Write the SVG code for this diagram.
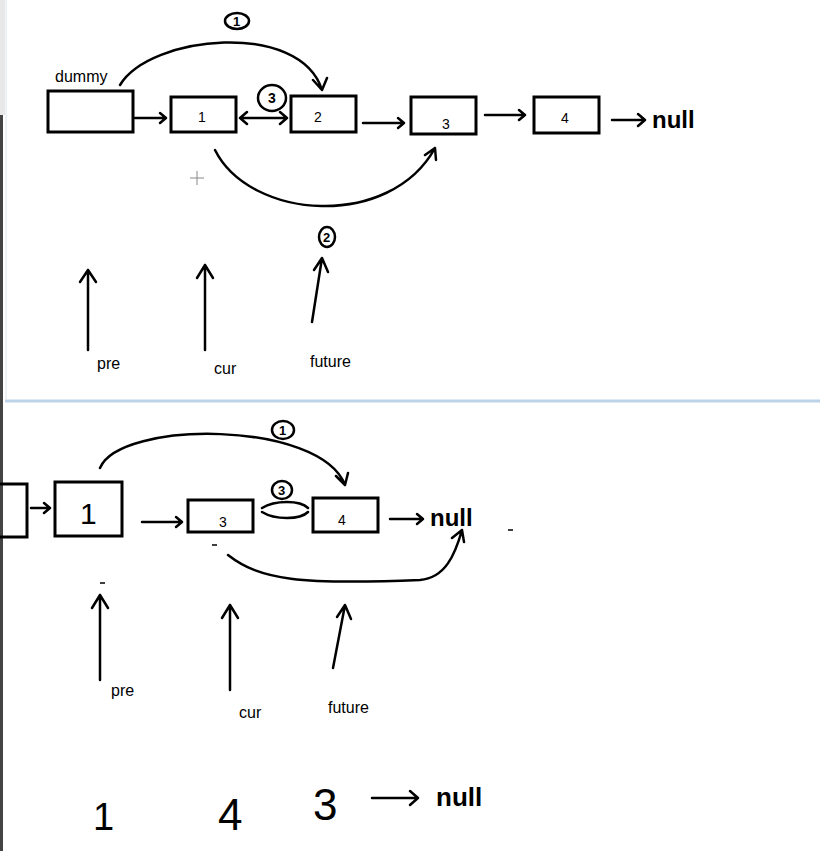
<svg xmlns="http://www.w3.org/2000/svg" width="820" height="851" viewBox="0 0 820 851">
<style>
.b{fill:none;stroke:#000;stroke-width:3}
.l{fill:none;stroke:#000;stroke-width:2.5;stroke-linecap:round;stroke-linejoin:round}
.t{font-family:"Liberation Sans",Arial,sans-serif;fill:#000}
.h{font-family:"Liberation Sans",Arial,sans-serif;font-weight:bold;fill:#000}
</style>
<rect width="820" height="851" fill="#fff"/>
<rect x="0" y="115" width="3" height="736" fill="#444"/>
<rect x="0" y="0" width="5" height="115" fill="#e8e8e8"/>
<line x1="5" y1="401" x2="820" y2="401" stroke="#bcd3ea" stroke-width="3"/>
<line x1="6" y1="0" x2="6" y2="400" stroke="#dde6ef" stroke-width="1"/>
<g id="top-nodes">
<g id="dummy"><rect class="b" x="48" y="91" width="85" height="41"/><text class="t" x="55" y="82" font-size="16">dummy</text></g>
<g id="n1"><rect class="b" x="171" y="97" width="65" height="35"/><text class="t" x="198" y="122" font-size="14">1</text></g>
<g id="n2"><rect class="b" x="291" y="96" width="65" height="36"/><text class="t" x="314" y="122" font-size="14">2</text></g>
<g id="n3"><rect class="b" x="411" y="97" width="65" height="37"/><text class="t" x="442" y="129" font-size="14">3</text></g>
<g id="n4"><rect class="b" x="534" y="97" width="65" height="36"/><text class="t" x="561" y="123" font-size="14">4</text></g>
<text class="h" x="652" y="128" font-size="24">null</text>
</g>
<g id="top-connectors">
<path class="l" d="M135 118 H166 M160 113 L166 118 L160 123"/>
<path class="l" d="M240 118 H287 M247 112 L240 118 L247 124 M280 112 L287 118 L280 124"/>
<path class="l" d="M363 123 H404 M398 118 L404 123 L398 128"/>
<path class="l" d="M485 115 H525 M519 110 L525 115 L519 120"/>
<path class="l" d="M612 120 H645 M638 114 L645 120 L638 126"/>
<path class="l" d="M120 85 C150 35 300 20 322 90 M313 80 L322 90 L327 78"/>
<path class="l" d="M215 150 C250 220 390 230 435 148 M425 155 L435 148 L436 160"/>
<path class="l" d="M88 350 V270 M80 282 L88 270 L96 282"/>
<path class="l" d="M205 350 V265 M197 278 L205 265 L213 278"/>
<path class="l" d="M312 322 L322 258 M314 270 L322 258 L328 272"/>
<ellipse class="l" cx="237" cy="21" rx="12" ry="8"/><text class="h" x="233" y="26" font-size="13">1</text>
<ellipse class="l" cx="327" cy="237" rx="8" ry="10"/><text class="h" x="323" y="242" font-size="13">2</text>
<ellipse class="l" cx="272" cy="98" rx="14" ry="13"/><text class="h" x="268" y="103" font-size="14">3</text>
<path d="M197 171 V185 M190 178 H204" stroke="#888" stroke-width="1"/>
<text class="t" x="97" y="369" font-size="16">pre</text>
<text class="t" x="214" y="374" font-size="16">cur</text>
<text class="t" x="310" y="367" font-size="16">future</text>
</g>
<g id="bottom-nodes">
<g id="bn0"><rect class="b" x="-10" y="484" width="37" height="53"/></g>
<g id="bn1"><rect class="b" x="55" y="482" width="67" height="54"/><text class="t" x="80" y="524" font-size="30">1</text></g>
<g id="bn3"><rect class="b" x="188" y="500" width="65" height="32"/><text class="t" x="219" y="527" font-size="14">3</text></g>
<g id="bn4"><rect class="b" x="313" y="498" width="65" height="34"/><text class="t" x="338" y="525" font-size="14">4</text></g>
<text class="h" x="430" y="526" font-size="24">null</text>
</g>
<g id="bottom-connectors">
<path class="l" d="M31 508 H50 M44 503 L50 508 L44 513"/>
<path class="l" d="M142 522 H182 M176 517 L182 522 L176 527"/>
<path class="l" d="M390 519 H423 M417 514 L423 519 L417 524"/>
<path class="l" d="M100 468 C120 420 320 420 345 485 M336 476 L345 485 L348 473"/>
<path class="l" d="M262 508 C275 500 300 500 308 508 M262 512 C275 520 300 520 308 512"/>
<path class="l" d="M228 555 C260 580 300 585 420 580 C445 578 455 555 462 530 M452 538 L462 530 L464 542"/>
<path class="l" d="M100 680 V595 M92 608 L100 595 L108 608"/>
<path class="l" d="M230 690 V605 M222 618 L230 605 L238 618"/>
<path class="l" d="M333 668 L345 605 M337 617 L345 605 L351 619"/>
<ellipse class="l" cx="283" cy="430" rx="11" ry="9"/><text class="h" x="279" y="435" font-size="13">1</text>
<ellipse class="l" cx="282" cy="490" rx="10" ry="9"/><text class="h" x="278" y="495" font-size="13">3</text>
<path d="M100 583 h5 M212 545 h5 M508 530 h5" stroke="#000" stroke-width="1.5"/>
<text class="t" x="111" y="696" font-size="16">pre</text>
<text class="t" x="239" y="718" font-size="16">cur</text>
<text class="t" x="328" y="713" font-size="16">future</text>
</g>
<g id="result">
<text class="t" x="93" y="830" font-size="38">1</text>
<text class="t" x="218" y="830" font-size="44">4</text>
<text class="t" x="313" y="820" font-size="44">3</text>
<path class="l" d="M372 798 H418 M410 791 L418 798 L410 805"/>
<text class="h" x="436" y="806" font-size="26">null</text>
</g>
</svg>
